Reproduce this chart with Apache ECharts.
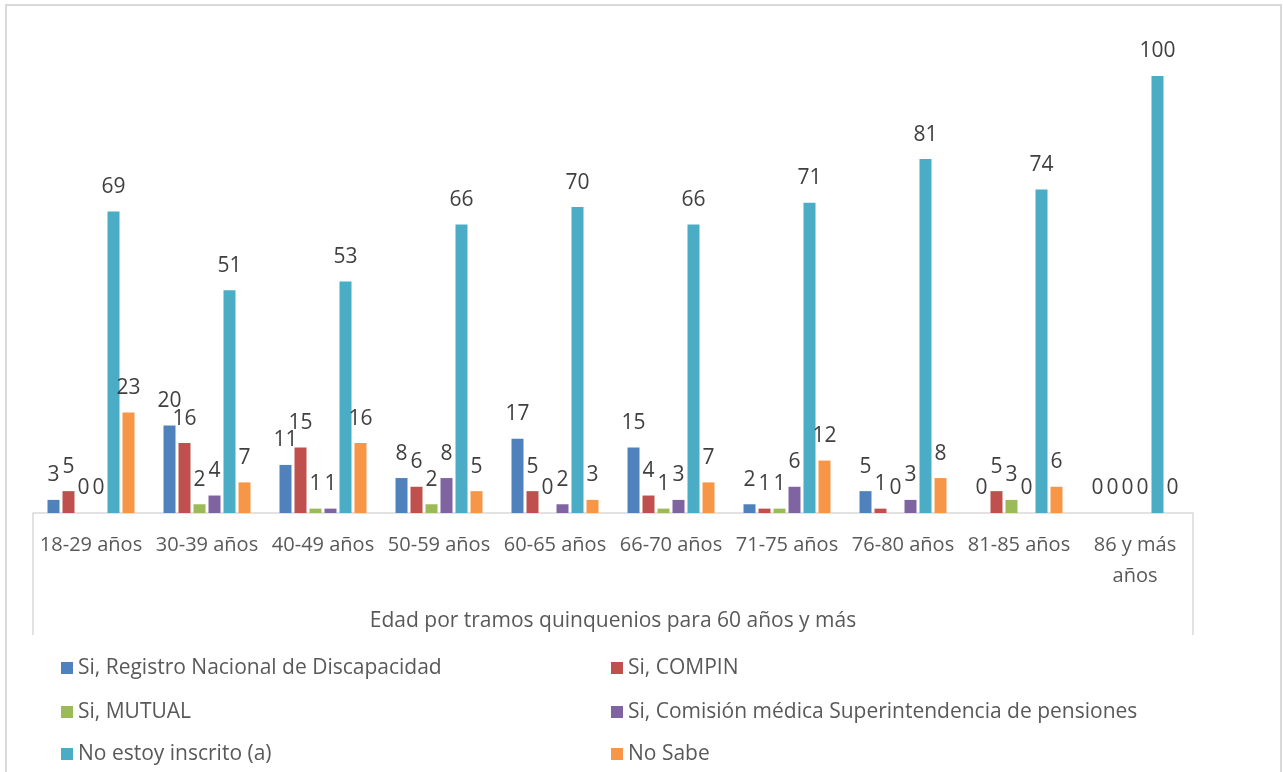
<!DOCTYPE html>
<html>
<head>
<meta charset="utf-8">
<script src="https://cdn.jsdelivr.net/npm/echarts@6/dist/echarts.min.js"></script>
<style>
html, body { margin: 0; padding: 0; background: #fff; }
#chart { width: 1283px; height: 772px; }
</style>
</head>
<body>
<div id="chart"></div>
<script>
var categories = ['18-29 años', '30-39 años', '40-49 años', '50-59 años', '60-65 años', '66-70 años', '71-75 años', '76-80 años', '81-85 años', '86 y más años'];
var registro = [3, 20, 11, 8, 17, 15, 2, 5, 0, 0];
var compin = [5, 16, 15, 6, 5, 4, 1, 1, 5, 0];
var mutual = [0, 2, 1, 2, 0, 1, 1, 0, 3, 0];
var comision = [0, 4, 1, 8, 2, 3, 6, 3, 0, 0];
var noInscrito = [69, 51, 53, 66, 70, 66, 71, 81, 74, 100];
var noSabe = [23, 7, 16, 5, 3, 7, 12, 8, 6, 0];

var names = ['Si, Registro Nacional de Discapacidad', 'Si, COMPIN', 'Si, MUTUAL',
    'Si, Comisión médica Superintendencia de pensiones', 'No estoy inscrito (a)', 'No Sabe'];
var colors = ['#4F81BD', '#C0504D', '#9BBB59', '#8064A2', '#4BACC6', '#F79646'];
var values = [registro, compin, mutual, comision, noInscrito, noSabe];

var font = '"Open Sans", sans-serif';
var series = [];
for (var i = 0; i < values.length; i++) {
    series.push({
        name: names[i], type: 'bar', data: values[i],
        barWidth: 12, barGap: '25%',
        itemStyle: { color: colors[i] },
        label: { show: true, position: 'top', distance: 14, color: '#404040', fontSize: 21, fontFamily: font }
    });
}

// legend: two columns, row by row
var legendText = { color: '#595959', fontSize: 21, fontFamily: font, lineHeight: 22 };
var legends = [];
var legendRows = [657, 701, 743];
for (var j = 0; j < names.length; j++) {
    legends.push({
        data: [names[j]], left: j % 2 == 0 ? 61 : 611, top: legendRows[Math.floor(j / 2)],
        itemWidth: 12, itemHeight: 12, itemGap: 0, icon: 'rect', textStyle: legendText, padding: 0
    });
}

var option = {
    animation: false,
    color: colors,
    grid: { left: 33, right: 90, top: 76, bottom: 259 },
    xAxis: {
        type: 'category', data: categories,
        axisLine: { lineStyle: { color: '#d9d9d9', width: 1.5 } },
        axisTick: { show: false },
        axisLabel: {
            color: '#595959', fontSize: 20, fontFamily: font, margin: 17, lineHeight: 31, interval: 0,
            formatter: function (v) { return v.replace('más ', 'más\n'); }
        },
        name: 'Edad por tramos quinquenios para 60 años y más',
        nameLocation: 'middle', nameGap: 98,
        nameTextStyle: { color: '#595959', fontSize: 21, fontFamily: font }
    },
    yAxis: { type: 'value', min: 0, max: 100, show: false },
    legend: legends,
    graphic: [
        { type: 'rect', shape: { x: 6, y: 5, width: 1275, height: 800 }, style: { fill: null, stroke: '#d9d9d9', lineWidth: 2 } },
        { type: 'line', shape: { x1: 33, y1: 513, x2: 33, y2: 635 }, style: { stroke: '#d9d9d9', lineWidth: 1.5 } },
        { type: 'line', shape: { x1: 1193, y1: 513, x2: 1193, y2: 635 }, style: { stroke: '#d9d9d9', lineWidth: 1.5 } }
    ],
    series: series
};

var chart = echarts.init(document.getElementById('chart'));
chart.setOption(option);
</script>
</body>
</html>
